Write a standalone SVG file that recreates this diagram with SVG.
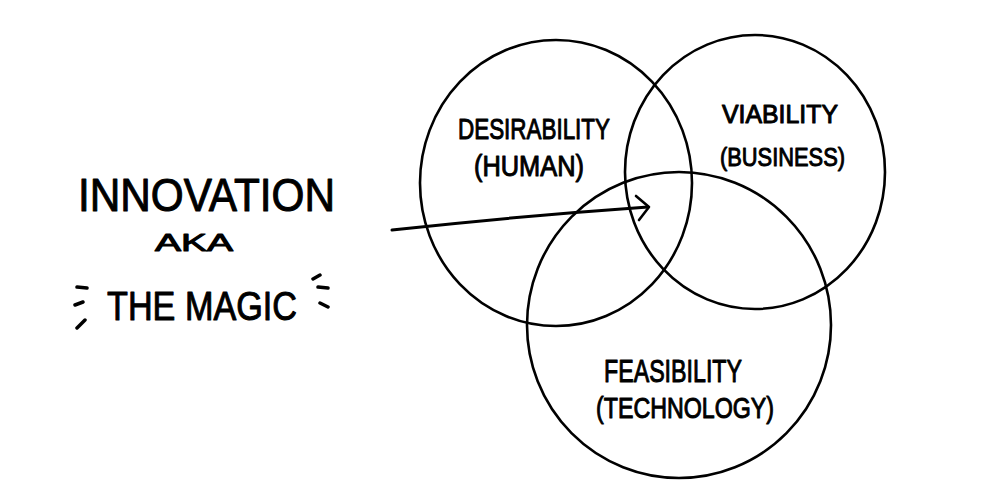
<svg xmlns="http://www.w3.org/2000/svg" width="1001" height="500" viewBox="0 0 1001 500">
<style>
.c{fill:none;stroke:#000;stroke-width:2.6}
.t{font-family:"Liberation Sans",Arial,sans-serif;fill:#000;stroke:#000;stroke-width:1;stroke-linejoin:round}
.d{stroke:#000;stroke-width:3.5;stroke-linecap:round;fill:none}
</style>
<rect width="1001" height="500" fill="#fff"/>
<g id="desirability">
<ellipse class="c" cx="556" cy="183" rx="136" ry="143"/>
<text class="t" x="458" y="139" font-size="29" textLength="152" lengthAdjust="spacingAndGlyphs">DESIRABILITY</text>
<text class="t" x="474" y="176" font-size="29" textLength="110" lengthAdjust="spacingAndGlyphs">(HUMAN)</text>
</g>
<g id="viability">
<ellipse class="c" cx="755" cy="172" rx="130" ry="137"/>
<text class="t" x="722" y="123" font-size="25" textLength="116" lengthAdjust="spacingAndGlyphs">VIABILITY</text>
<text class="t" x="720" y="166" font-size="26" textLength="125" lengthAdjust="spacingAndGlyphs">(BUSINESS)</text>
</g>
<g id="feasibility">
<ellipse class="c" cx="679" cy="325" rx="152" ry="153"/>
<text class="t" x="604" y="382" font-size="31" textLength="138" lengthAdjust="spacingAndGlyphs">FEASIBILITY</text>
<text class="t" x="596" y="418" font-size="29" textLength="178" lengthAdjust="spacingAndGlyphs">(TECHNOLOGY)</text>
</g>
<g id="innovation">
<text class="t" x="78" y="211" font-size="46" textLength="257" lengthAdjust="spacingAndGlyphs" stroke-width="1.6">INNOVATION</text>
<text class="t" x="155" y="251" font-size="24" textLength="78" lengthAdjust="spacingAndGlyphs" stroke-width="1.4">AKA</text>
<text class="t" x="107" y="320" font-size="41" textLength="190" lengthAdjust="spacingAndGlyphs" stroke-width="1.6">THE MAGIC</text>
<path class="d" d="M77 287 L87 288 M75 305 L83 302 M77 328 L85 320 M313 279 L320 275 M318 287 L328 288 M320 303 L328 307"/>
</g>
<g id="connectors">
<path d="M392 230 Q520 216 648 207" fill="none" stroke="#000" stroke-width="3" stroke-linecap="round"/>
<path d="M636 196 L649 207 L639 220" fill="none" stroke="#000" stroke-width="2.6" stroke-linecap="round" stroke-linejoin="round"/>
</g>
</svg>
